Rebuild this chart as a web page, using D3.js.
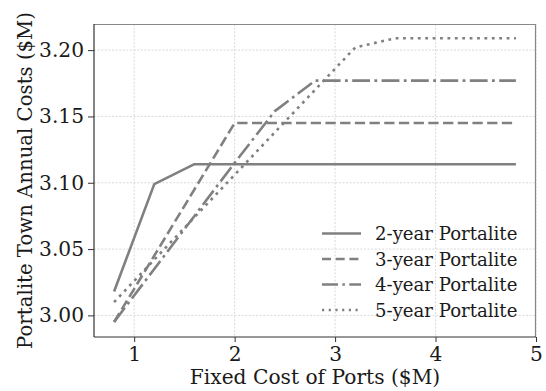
<!DOCTYPE html>
<html>
<head>
<meta charset="utf-8">
<script src="https://cdn.jsdelivr.net/npm/d3@7"></script>
<style>
  html, body { margin: 0; padding: 0; background: #fff; }
  svg { display: block; }
  text { font-family: "DejaVu Serif", serif; fill: #1a1a1a; }
</style>
</head>
<body>
<svg id="chart" width="546" height="391"></svg>
<script>
const fixedCost = [0.8, 1.2, 1.6, 2.0, 2.4, 2.8, 3.2, 3.6, 4.0, 4.4, 4.8];
const portalite2 = [3.018, 3.099, 3.114, 3.114, 3.114, 3.114, 3.114, 3.114, 3.114, 3.114, 3.114];
const portalite3 = [2.995, 3.045, 3.095, 3.145, 3.145, 3.145, 3.145, 3.145, 3.145, 3.145, 3.145];
const portalite4 = [2.995, 3.035, 3.075, 3.115, 3.154, 3.177, 3.177, 3.177, 3.177, 3.177, 3.177];
const portalite5 = [3.010, 3.042, 3.074, 3.106, 3.138, 3.170, 3.202, 3.209, 3.209, 3.209, 3.209];
const seriesNames = ["2-year Portalite", "3-year Portalite", "4-year Portalite", "5-year Portalite"];
const xTicks = [1, 2, 3, 4, 5];
const yTicks = [3.00, 3.05, 3.10, 3.15, 3.20];

const seriesValues = [portalite2, portalite3, portalite4, portalite5];
const dashes = [null, "10.3,4.4", "17.8,4.4,2.8,4.4", "2.8,4.6"];
const legendDashes = [null, "9,4.7", "16,4.4,2.5,4.4", "2.2,4.5"];
const lineColor = "#808080";
const FS = "20.2px";
const YFS = "19.7px";
const LFS = "18.1px";

const svg = d3.select("#chart");
const margin = {left: 94, right: 10, top: 24, bottom: 54};
const W = 546, H = 391;
const x0 = margin.left, x1 = W - margin.right, y0 = margin.top, y1 = H - margin.bottom;

const x = d3.scaleLinear().domain([0.6, 5.0]).range([x0, x1]);
const y = d3.scaleLinear().domain([2.9837, 3.2197]).range([y1, y0]);

// grid
const grid = svg.append("g");
grid.selectAll("line.vx").data(xTicks).join("line")
  .attr("x1", d => x(d)).attr("x2", d => x(d)).attr("y1", y0).attr("y2", y1)
  .attr("stroke", "#cfcfcf").attr("stroke-width", 0.8).attr("stroke-dasharray", "2,1.6");
grid.selectAll("line.hy").data(yTicks).join("line")
  .attr("x1", x0).attr("x2", x1).attr("y1", d => y(d)).attr("y2", d => y(d))
  .attr("stroke", "#cfcfcf").attr("stroke-width", 0.8).attr("stroke-dasharray", "2,1.6");

// lines
const line = d3.line().x((d, i) => x(fixedCost[i])).y(d => y(d));
svg.append("clipPath").attr("id", "clip").append("rect")
  .attr("x", x0).attr("y", y0).attr("width", x1 - x0).attr("height", y1 - y0);
const lines = svg.append("g").attr("clip-path", "url(#clip)");
seriesValues.forEach((vals, k) => {
  lines.append("path").datum(vals)
    .attr("d", line)
    .attr("fill", "none")
    .attr("stroke", lineColor)
    .attr("stroke-width", 2.6)
    .attr("stroke-linejoin", "round")
    .attr("stroke-dasharray", dashes[k]);
});

// axes
const xAxis = d3.axisBottom(x).tickValues(xTicks).tickFormat(d3.format("d")).tickSize(5).tickPadding(3);
const yAxis = d3.axisLeft(y).tickValues(yTicks).tickFormat(d3.format(".2f")).tickSize(6).tickPadding(4);

const gx = svg.append("g").attr("transform", `translate(0,${y1})`).call(xAxis);
const gy = svg.append("g").attr("transform", `translate(${x0},0)`).call(yAxis);
[gx, gy].forEach(g => {
  g.select(".domain").remove();
  g.selectAll(".tick line").attr("stroke", "#333").attr("stroke-width", 1);
  g.selectAll(".tick text").attr("font-family", "DejaVu Serif").attr("font-size", FS).attr("fill", "#1a1a1a");
});
gx.selectAll(".tick text").attr("dy", "0.78em");

// spines
svg.append("line").attr("x1", x0).attr("x2", x1).attr("y1", y0 + 0.5).attr("y2", y0 + 0.5).attr("stroke", "#888").attr("stroke-width", 1.2);
svg.append("line").attr("x1", x1 - 0.5).attr("x2", x1 - 0.5).attr("y1", y0).attr("y2", y1).attr("stroke", "#888").attr("stroke-width", 1.2);
svg.append("line").attr("x1", x0).attr("x2", x1).attr("y1", y1).attr("y2", y1).attr("stroke", "#333").attr("stroke-width", 1.2);
svg.append("line").attr("x1", x0).attr("x2", x0).attr("y1", y0).attr("y2", y1).attr("stroke", "#333").attr("stroke-width", 1.2);

// axis labels
svg.append("text").attr("x", (x0 + x1) / 2).attr("y", 383.5)
  .attr("text-anchor", "middle").attr("font-size", FS).text("Fixed Cost of Ports ($M)");
svg.append("text").attr("transform", `translate(32,${(y0 + y1) / 2}) rotate(-90)`)
  .attr("text-anchor", "middle").attr("font-size", YFS).text("Portalite Town Annual Costs ($M)");

// legend
const legend = svg.append("g");
const legendY = [233.5, 259, 284.5, 310];
seriesNames.forEach((name, k) => {
  legend.append("line").attr("x1", 322).attr("x2", 361)
    .attr("y1", legendY[k]).attr("y2", legendY[k])
    .attr("stroke", lineColor).attr("stroke-width", 2.6)
    .attr("stroke-dasharray", legendDashes[k]);
  legend.append("text").attr("x", 375).attr("y", legendY[k]).attr("dy", "0.36em")
    .attr("font-size", LFS).text(name);
});
</script>
</body>
</html>
